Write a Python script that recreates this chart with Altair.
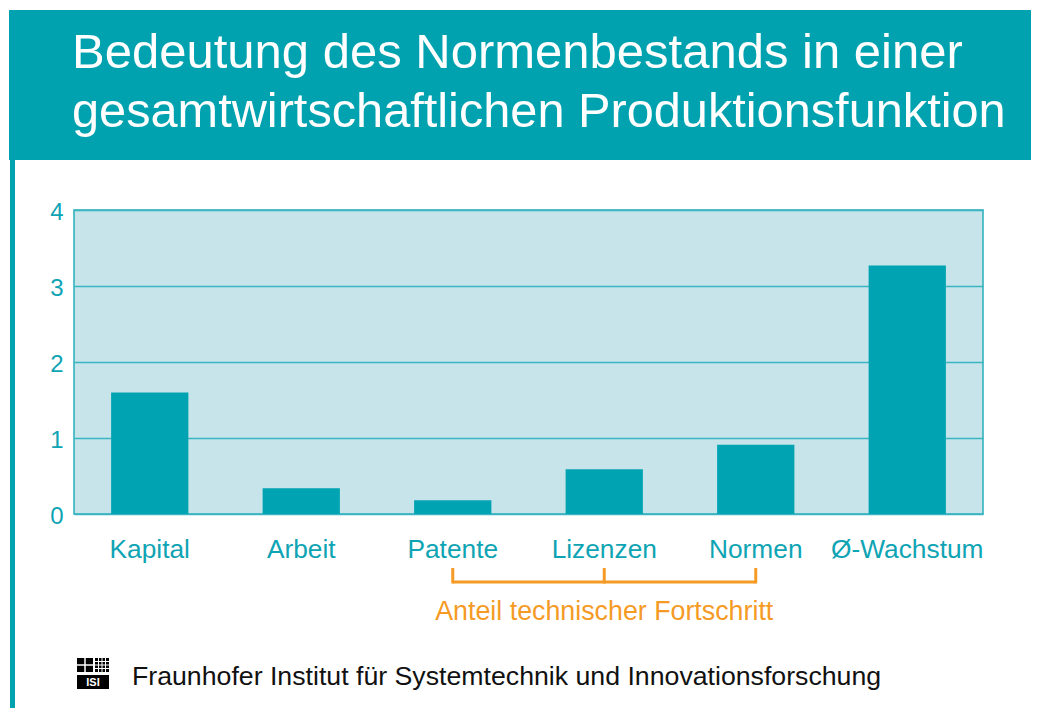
import altair as alt
import pandas as pd

# ---------------- data ----------------
categories = ["Kapital", "Arbeit", "Patente", "Lizenzen", "Normen", "Ø-Wachstum"]
values = [1.6, 0.34, 0.18, 0.59, 0.91, 3.27]
y_ticks = [0, 1, 2, 3, 4]
title_lines = ["Bedeutung des Normenbestands in einer",
               "gesamtwirtschaftlichen Produktionsfunktion"]
bracket_categories = ["Patente", "Lizenzen", "Normen"]
bracket_label = ["Anteil technischer Fortschritt"]
bracket_center = ["Lizenzen"]
footer_text = "Fraunhofer Institut für Systemtechnik und Innovationsforschung"
logo_text = "ISI"

# ---------------- styles ----------------
TEAL = "#00a2b0"
BAR = "#00a3b1"
BG = "#c6e4ea"
GRID = "#3bb5c1"
BORDER = "#27adb9"
LABEL = "#0ea4b4"
ORANGE = "#f59b25"
FONT = "Liberation Sans"

df = pd.DataFrame({"cat": categories, "val": values})
br_df = pd.DataFrame({"cat": bracket_categories})
lab_df = pd.DataFrame({"cat": bracket_center, "txt": bracket_label})
one = pd.DataFrame({"a": [0]})

xscale = alt.Scale(domain=categories, paddingInner=0.49, paddingOuter=0.245)
yscale = alt.Scale(domain=[0, 4], nice=False)

x_axis = alt.Axis(title=None, labelAngle=0, labelFont=FONT, labelFontSize=26.3,
                  labelColor=LABEL, labelPadding=43, labelBaseline="alphabetic",
                  ticks=False, tickSize=0, domain=False, grid=False)
x_enc = alt.X("cat:N", scale=xscale, axis=x_axis)

bars = alt.Chart(df).mark_bar(color=BAR).encode(
    x=x_enc,
    y=alt.Y("val:Q", scale=yscale,
            axis=alt.Axis(title=None, values=y_ticks, labelFont=FONT,
                          labelFontSize=24, labelColor=LABEL, labelPadding=11,
                          labelBaseline="middle", labelOffset=2.5,
                          ticks=False, tickSize=0, domain=False, grid=True,
                          gridColor=GRID, gridWidth=1.5, gridOpacity=1)),
)

bracket_ticks = alt.Chart(br_df).mark_rule(color=ORANGE, strokeWidth=3).encode(
    x=x_enc, y=alt.value(358), y2=alt.value(373.5)
)
bracket_line = alt.Chart(br_df).mark_line(color=ORANGE, strokeWidth=3).encode(
    x=x_enc, y=alt.value(372)
)
bracket_text = alt.Chart(lab_df).mark_text(
    color=ORANGE, font=FONT, fontSize=26.8, baseline="middle", align="center"
).encode(x=x_enc, y=alt.value(402), text="txt:N")


def rect(x1, x2, y1, y2, color):
    return alt.Chart(one).mark_rect(color=color).encode(
        x=alt.value(x1), x2=alt.value(x2), y=alt.value(y1), y2=alt.value(y2))


def vline(x, y1, y2, color, w=1):
    return alt.Chart(one).mark_rule(color=color, strokeWidth=w).encode(
        x=alt.value(x), y=alt.value(y1), y2=alt.value(y2))


def hline(y, x1, x2, color, w=1):
    return alt.Chart(one).mark_rule(color=color, strokeWidth=w).encode(
        y=alt.value(y), x=alt.value(x1), x2=alt.value(x2))


def text(t, x, y, size, color, align="left", baseline="alphabetic", weight="normal"):
    return alt.Chart(one).mark_text(
        text=t, font=FONT, fontSize=size, color=color, align=align,
        baseline=baseline, fontWeight=weight).encode(x=alt.value(x), y=alt.value(y))


header = rect(-65, 1000, -200, -50, TEAL)
left_line = rect(-64, -59, -50, 700, TEAL)
titles = [text(title_lines[0], -2, -142, 49, "white"),
          text(title_lines[1], -2, -83, 48.7, "white")]

footer = text(footer_text, 58, 467, 26.7, "#111111", baseline="middle")

logo = [
    rect(3, 19, 448, 462, "black"),
    rect(21, 35, 448, 462, "black"),
    vline(11, 448, 462, "white", 1.5),
    hline(455, 3, 19, "white", 1.5),
    vline(24.5, 448, 462, "white"),
    vline(28, 448, 462, "white"),
    vline(31.5, 448, 462, "white"),
    hline(451.5, 21, 35, "white"),
    hline(455, 21, 35, "white"),
    hline(458.5, 21, 35, "white"),
    rect(3, 35, 465, 479, "black"),
    text(logo_text, 19, 472.5, 11, "white", align="center", baseline="middle", weight="bold"),
]

chart = alt.layer(
    header, left_line, *titles, bars, bracket_ticks, bracket_line, bracket_text,
    footer, *logo
).properties(
    width=909, height=304,
    padding={"left": 66, "top": 202, "right": 48, "bottom": 194},
    autosize=alt.AutoSizeParams(type="none"),
).configure_view(
    fill=BG, stroke=BORDER, strokeWidth=1.5
)

chart.save("out.html", embed_options={"renderer": "svg", "actions": False})
